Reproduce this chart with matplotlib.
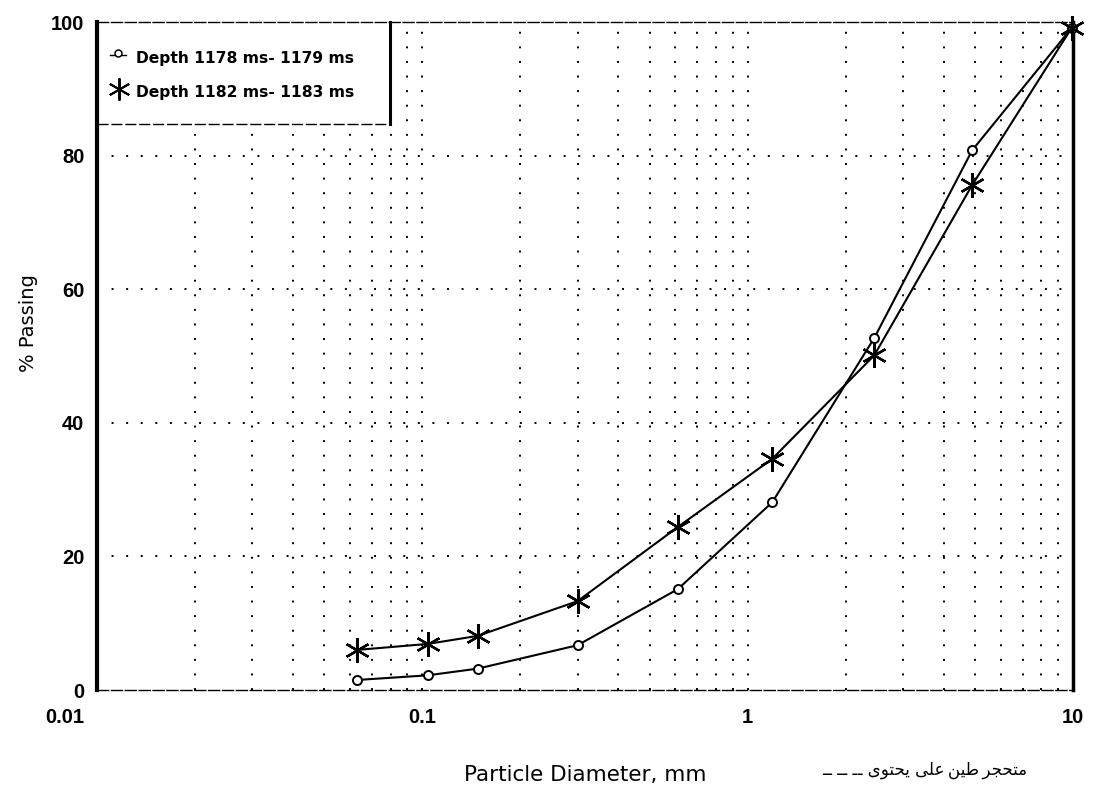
import matplotlib
matplotlib.use("Agg")
import matplotlib.pyplot as plt
import matplotlib.transforms as mtransforms
from matplotlib.ticker import LogLocator, FixedLocator, NullFormatter

# Sieve sizes (mm) and percent passing for the two depth intervals
diam = [0.063, 0.104, 0.148, 0.30, 0.61, 1.19, 2.45, 4.9, 9.9]
passing_1178 = [1.5, 2.2, 3.2, 6.7, 15.1, 28.1, 52.7, 80.8, 99.1]
passing_1182 = [6.0, 6.9, 8.1, 13.3, 24.4, 34.6, 50.1, 75.6, 99.1]

label_1178 = "Depth 1178 ms- 1179 ms"
label_1182 = "Depth 1182 ms- 1183 ms"
x_ticks = [0.01, 0.1, 1, 10]
x_tick_labels = ["0.01", "0.1", "1", "10"]
y_ticks = [0, 20, 40, 60, 80, 100]

# "contains indurated clay" note, glyphs in presentation forms, laid out left to right
words = [
    "\uFEEF\uFEEE\uFE98\uFEA4\uFEF3",          # يحتوى
    "\uFEF0\uFEE0\uFECB",                      # على
    "\uFEE6\uFEF4\uFEC3",                      # طين
    "\uFEAE\uFEA0\uFEA4\uFE98\uFEE3",          # متحجر
]
note_text = ("\u0640\u0640 \u0640\u0640 \u0640\u0640 " + words[0] + " " + words[1]
             + "\u2009" + words[2] + "\u2009" + words[3])

plt.rcParams["font.family"] = ["Liberation Sans", "DejaVu Sans"]
plt.rcParams["axes.axisbelow"] = True

fig = plt.figure(figsize=(10.93, 7.89), dpi=100)
ax = fig.add_axes([97 / 1093, 1 - 690 / 789, 976 / 1093, 668 / 789])

ax.set_xscale("log")
ax.set_xlim(0.01, 10)
ax.set_ylim(0, 100)

# Dotted grid: horizontal at major y ticks, vertical at every log subdivision
dot = (0, (1, 6.5))
for yv in [20, 40, 60, 80]:
    ax.axhline(yv, color="black", lw=1.4, ls=dot, zorder=0.6)
ax.xaxis.set_minor_locator(LogLocator(base=10, subs=range(2, 10), numticks=20))
ax.grid(True, which="both", axis="x", color="black", lw=1.4, ls=dot)

ax.plot(diam, passing_1178, color="black", lw=1.5, marker="o", ms=6.5,
        mfc="white", mec="black", mew=1.4, zorder=3, clip_on=False)
ax.plot(diam, passing_1182, color="black", lw=1.5, marker=(6, 2, 0), ms=18,
        mec="black", mew=1.7, zorder=3, clip_on=False)

ax.xaxis.set_major_locator(FixedLocator(x_ticks))
ax.set_xticklabels(x_tick_labels)
ax.xaxis.set_minor_formatter(NullFormatter())
ax.set_yticks(y_ticks)
ax.tick_params(which="both", length=0)
ax.tick_params(axis="x", pad=13, labelsize=14.5)
ax.tick_params(axis="y", pad=9, labelsize=14.5)
for t in ax.get_xticklabels() + ax.get_yticklabels():
    t.set_fontweight("bold")
# the leftmost decade label sits a little left of its gridline
first = ax.get_xticklabels()[0]
first.set_transform(first.get_transform()
                    + mtransforms.ScaledTranslation(-32 / 100, 0, fig.dpi_scale_trans))

# Frame: heavy sides, light dashed top and bottom
ax.spines["left"].set_linewidth(3)
ax.spines["right"].set_linewidth(2.5)
for s in ("top", "bottom"):
    ax.spines[s].set_linewidth(1.0)
    ax.spines[s].set_linestyle((0, (8, 2)))

ax.set_ylabel("% Passing", fontsize=14, family=["DejaVu Sans"])
ax.yaxis.set_label_coords(-0.060, 0.55)
ax.set_xlabel("Particle Diameter, mm", fontsize=15.5, family=["DejaVu Sans"])
ax.xaxis.set_label_coords(0.50, -0.112)

fig.text(925 / 1093, 1 - 770 / 789, note_text, fontsize=12,
         family=["DejaVu Sans"], ha="center", va="center")

# Legend box in the upper-left corner, blanking the grid behind it
bx1, by0 = 0.300, 0.847
ax.fill_between([0.003, bx1], by0, 0.998, transform=ax.transAxes, color="white",
                zorder=1.8)
ax.plot([0, bx1], [by0, by0], transform=ax.transAxes, color="black", lw=1.0,
        ls=(0, (8, 2)), clip_on=False, zorder=5)
ax.plot([bx1, bx1], [by0, 1.0], transform=ax.transAxes, color="black", lw=2.2,
        clip_on=False, zorder=5)

ax.plot([0.013, 0.030], [0.951, 0.951], transform=ax.transAxes, color="black",
        lw=1.0, clip_on=False, zorder=6)
ax.plot([0.0215], [0.953], transform=ax.transAxes, marker="o", ms=5, mfc="white",
        mec="black", mew=1.1, clip_on=False, zorder=7)
ax.plot([0.023], [0.900], transform=ax.transAxes, marker=(6, 2, 0), ms=16,
        mec="black", mew=1.4, clip_on=False, zorder=7)
ax.text(0.040, 0.945, label_1178, transform=ax.transAxes, fontsize=11.2,
        family=["DejaVu Sans"], fontweight="bold", va="center", ha="left", zorder=7)
ax.text(0.040, 0.895, label_1182, transform=ax.transAxes, fontsize=11.2,
        family=["DejaVu Sans"], fontweight="bold", va="center", ha="left", zorder=7)

fig.savefig("out.png", dpi=100, facecolor="white")
